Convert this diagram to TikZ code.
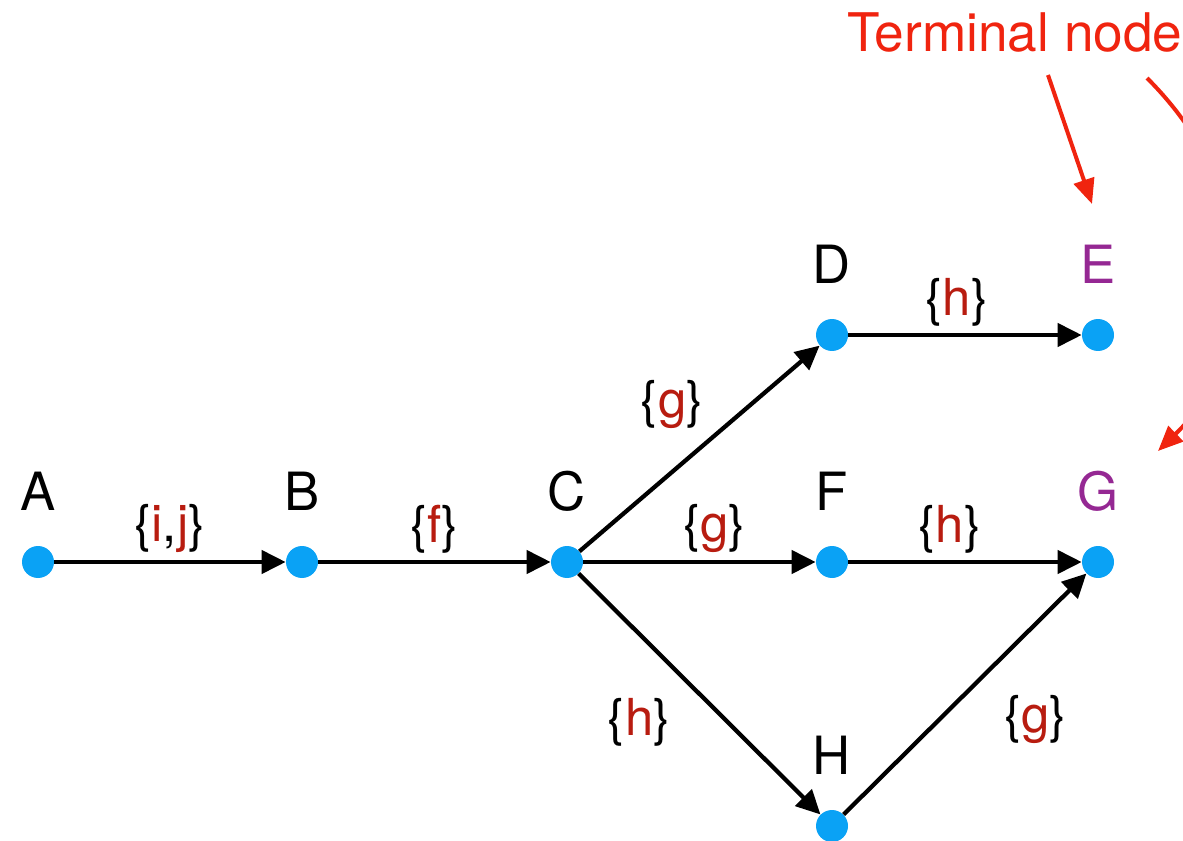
\documentclass[tikz,border=0pt]{standalone}
\usepackage{fontspec}
\setmainfont{TeX Gyre Heros}
\usetikzlibrary{arrows.meta, positioning}
\definecolor{dotblue}{HTML}{0AA2F5}
\definecolor{setred}{HTML}{B81C10}
\definecolor{termred}{HTML}{F0240F}
\definecolor{termpurple}{HTML}{952893}
\newcommand{\setlbl}[1]{\{\textcolor{setred}{#1}\}}

\begin{document}
\begin{tikzpicture}[
    x=0.02cm, y=-0.02cm,
    state/.style={circle, fill=dotblue, inner sep=0pt, minimum size=0.64cm},
    letter/.style={font=\fontsize{30}{31}\selectfont, inner sep=0pt, text depth=0pt},
    trans/.style={-{Triangle[length=0.48cm, width=0.46cm]}, line width=0.085cm},
    setlabel/.style={font=\fontsize{29}{30}\selectfont, inner sep=4pt},
    pointer/.style={-{Triangle[length=0.5cm, width=0.42cm]}, line width=0.08cm, draw=termred}
]
\useasboundingbox (0,0) rectangle (1183,841);
\clip (0,0) rectangle (1183,841);

% states of the lattice
\node[state] (A) at (38,562) {};
\node[state] (B) at (302,562) {};
\node[state] (C) at (567,562) {};
\node[state] (D) at (832,335) {};
\node[state] (E) at (1098,335) {};
\node[state] (F) at (832,562) {};
\node[state] (G) at (1098,562) {};
\node[state] (H) at (832,826) {};

\node[letter, above=0.7cm of A] (Alab) {A};
\node[letter, above=0.7cm of B] (Blab) {B};
\node[letter, above=0.7cm of C] (Clab) {C};
\node[letter, above=0.7cm of D] (Dlab) {D};
\node[letter, above=0.7cm of E, text=termpurple] (Elab) {E};
\node[letter, above=0.7cm of F] (Flab) {F};
\node[letter, above=0.7cm of G, text=termpurple] (Glab) {G};
\node[letter, above=0.7cm of H] (Hlab) {H};

% transitions
\draw[trans] (A) -- node[setlabel, above] {\{\textcolor{setred}{i},\textcolor{setred}{j}\}} (B);
\draw[trans] (B) -- node[setlabel, above] {\setlbl{f}} (C);
\draw[trans] (C) -- node[setlabel, above, xshift=0.3cm] {\setlbl{g}} (F);
\draw[trans] (F) -- node[setlabel, above, xshift=-0.3cm] {\setlbl{h}} (G);
\draw[trans] (D) -- node[setlabel, above, xshift=-0.16cm] {\setlbl{h}} (E);
\draw[trans] (C) -- node[setlabel, above left=0.3cm and 0cm, xshift=0.26cm, yshift=-0.08cm] {\setlbl{g}} (D);
\draw[trans] (C) -- node[setlabel, below left=0.1cm and 0.2cm, xshift=-0.2cm, yshift=0.2cm] {\setlbl{h}} (H);
\draw[trans] (H) -- node[setlabel, below right=0.1cm and 0.2cm, xshift=0.4cm, yshift=0.26cm] {\setlbl{g}} (G);

% terminal note
\node[anchor=base west, inner sep=0pt, text=termred, font=\fontsize{30.3}{31}\selectfont] (term) at (847,52) {Terminal node};
\coordinate (t1) at (1048,75);
\coordinate (t2) at (1147,78);
\coordinate (tE) at (1092,204);
\coordinate (tG) at (1158,451);
\draw[pointer] (t1) -- (tE);
\draw[pointer] (t2) .. controls (1265,196) and (1262,350) .. (tG);
\end{tikzpicture}
\end{document}
